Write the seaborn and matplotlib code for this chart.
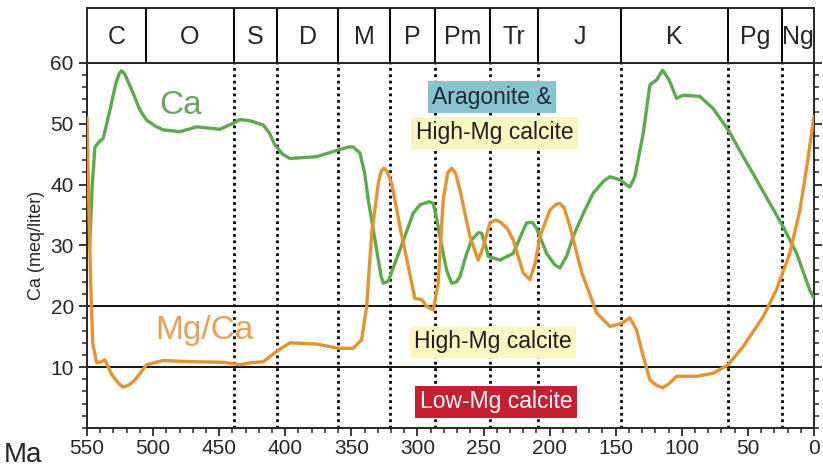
"""
Phanerozoic seawater Ca and Mg/Ca with carbonate mineralogy fields.
"""

import numpy as np
import pandas as pd
import matplotlib
matplotlib.use('Agg')
import matplotlib.pyplot as plt
import seaborn as sns

# --- data ---
ca_age = [548, 546, 544, 540, 537.7, 532.6, 528, 525.5, 523.8, 521.5, 518, 515, 510,
          504.9, 498, 492.3, 479.6, 467, 449.4, 439.3, 434.3, 426.7, 416.6, 412,
          407.8, 402, 396.4, 376.2, 359.9, 352, 348.6, 343.5, 340, 337.2,
          330.9, 327.5, 325.9, 322.1, 318, 313.2, 303.2, 298, 291, 288, 285.5, 283,
          278, 274.1, 270.5, 267.8, 263, 259, 254, 251.4, 248.5, 246.4, 237.6, 227.5,
          220, 217.4, 213, 209.8, 202.3, 196, 192.2, 187, 182.1, 174, 167, 159,
          154.4, 146.8, 142, 139.3, 135.5, 129.2, 124.1, 119.1, 114.5, 109.5, 104,
          98.9, 86.3, 76.2, 64.9, 53.5, 43.4, 33.3, 23.3, 13.1, 3.2, 0]
ca = [30, 40, 46.2, 47.2, 47.6, 52.3, 56.8, 58.3, 58.7, 58.2, 56.5, 55, 52.3,
      50.6, 49.6, 49, 48.7, 49.5, 49.1, 50.1, 50.7, 50.5, 49.8, 48.5,
      46.5, 45, 44.3, 44.6, 45.7, 46.2, 46.2, 45.2, 42, 37.5,
      29.3, 25, 23.8, 24.1, 26.5, 29.3, 35.3, 36.7, 37.2, 36.9, 34.5, 31.5,
      26, 23.8, 24, 24.9, 28.5, 30.9, 32.1, 32, 30, 28.2, 27.6, 28.7,
      32.5, 33.7, 33.8, 32.8, 28.7, 26.8, 26.3, 28.3, 31.5, 35.5, 38.6, 40.6,
      41.3, 40.8, 40, 39.6, 41.3, 48.4, 56.4, 57.2, 58.8, 57.2, 54.2,
      54.7, 54.5, 52.5, 49, 44.6, 40.8, 36.9, 33.1, 28.7, 22.7, 21.3]

mg_age = [550, 549, 547.2, 545.7, 542.7, 539, 536.4, 531.3, 526, 522.5, 518, 513.7,
          504.9, 492.3, 472.1, 446.9, 434.3, 426.7, 416.6, 406.5, 396.4, 376.2,
          359.9, 348.6, 342.2, 338.4, 334.6, 329.6, 327.5, 325.3, 323, 319.5, 313.2,
          306.9, 301.9, 296.8, 293, 288, 284.3, 280.5, 277, 274.1, 271, 267.8, 260.3,
          254, 250.2, 245.2, 241, 237.6, 232, 227.5, 220, 214.9, 211, 207.3, 199.8,
          195, 192.2, 189, 184.6, 175.6, 164.4, 154.4, 145.5, 139.3, 134.2,
          129.2, 124.1, 119, 114.5, 109, 103.9, 88.8, 76.2, 64.9, 53.5, 38.4, 28.4,
          18.3, 10.6, 4.6, 0]
mg_ca = [51, 40.2, 23.8, 14, 10.7, 10.9, 11.2, 8.8, 7.3, 6.7, 7.1, 7.9,
         10.4, 11.1, 10.9, 10.8, 10.4, 10.7, 10.9, 12.6, 14, 13.8,
         13.1, 13.1, 14.5, 20, 32, 40.2, 42.2, 42.7, 42.2, 40.2, 33.1,
         26.5, 21.3, 21.1, 20, 19.4, 23.8, 37.5, 42, 42.7, 41.8, 39.1, 31.5,
         27.6, 29.8, 33.7, 34.2, 33.9, 32.8, 30.9, 25.5, 24.4, 27, 31.5, 35.8,
         36.8, 36.9, 36.2, 33.1, 25.5, 18.9, 16.7, 17.2, 18.1, 16.1,
         11.8, 7.9, 7.0, 6.6, 7.4, 8.5, 8.5, 9, 10.4, 13.4, 18.3, 22.7,
         28.7, 35.8, 44.1, 51.2]

period_bounds = [550, 505, 439, 406, 360, 321, 287, 245, 209, 146, 65, 24, 0]
period_labels = ['C', 'O', 'S', 'D', 'M', 'P', 'Pm', 'Tr', 'J', 'K', 'Pg', 'Ng']
dotted_ages = period_bounds[2:-1]
field_lines = [10, 20]

GREEN = '#5aab4c'
ORANGE = '#e8922e'
FONT = ['Liberation Sans Narrow', 'Liberation Sans', 'DejaVu Sans']

sns.set_style('ticks')
plt.rcParams['font.family'] = FONT
plt.rcParams.update({
    'axes.linewidth': 1.4,
    'xtick.major.width': 1.3, 'ytick.major.width': 1.3,
    'xtick.minor.width': 1.1, 'ytick.minor.width': 1.1,
    'xtick.major.size': 6, 'ytick.major.size': 6,
    'xtick.minor.size': 3.5, 'ytick.minor.size': 3.5,
    'xtick.direction': 'out', 'ytick.direction': 'out',
    'lines.solid_joinstyle': 'round',
})

fig = plt.figure(figsize=(8.23, 4.70), dpi=100)
ax = fig.add_axes([0.1057, 0.0894, 0.8833, 0.7766])
band = fig.add_axes([0.1057, 0.866, 0.8833, 0.117], sharex=ax)

ca_df = pd.DataFrame({'age': ca_age, 'value': ca})
mg_df = pd.DataFrame({'age': mg_age, 'value': mg_ca})

# mineralogy field boundaries and period boundaries
for y in field_lines:
    ax.axhline(y, color='black', lw=1.3, zorder=1)
for a in dotted_ages:
    ax.axvline(a, color='black', lw=2, ls=(0, (1, 1.3)), zorder=1)

sns.lineplot(data=ca_df, x='age', y='value', sort=False, color=GREEN, lw=2.4, ax=ax, zorder=3)
sns.lineplot(data=mg_df, x='age', y='value', sort=False, color=ORANGE, lw=2.4, ax=ax, zorder=4)

ax.set_xlim(550, 0)
ax.set_ylim(0, 60)
ax.set_xticks(np.arange(550, -1, -50))
ax.set_xticks(np.arange(550, -1, -10), minor=True)
ax.set_yticks(np.arange(10, 61, 10))
ax.set_yticks(np.arange(0, 61, 2), minor=True)
ax.tick_params(axis='both', which='both', labelsize=15, right=True, top=False)
ax.tick_params(axis='x', which='major', pad=2)
ax.set_xlabel('')
ax.set_ylabel('Ca (meq/liter)', fontsize=13, labelpad=4)

fig.text(0.004, 0.032, 'Ma', fontsize=20, va='center', ha='left')

# curve names
ax.text(479, 53, 'Ca', color='#6ea260', fontsize=24, ha='center', va='center')
ax.text(461, 16, 'Mg/Ca', color='#e6a05a', fontsize=24, ha='center', va='center')

# mineralogy fields
box = dict(boxstyle='square,pad=0.2', ec='none')
ax.text(243.5, 54.4, 'Aragonite &', fontsize=16.5, ha='center', va='center', color='#1e2a30',
        bbox={**box, 'fc': '#86c4cf'}, zorder=5)
ax.text(241.4, 48.5, 'High-Mg calcite', fontsize=16.5, ha='center', va='center', color='#1e1e1e',
        bbox={**box, 'fc': '#fbf5c2'}, zorder=5)
ax.text(242.9, 14.2, 'High-Mg calcite', fontsize=16.5, ha='center', va='center', color='#1e1e1e',
        bbox={**box, 'fc': '#fbf5c2'}, zorder=5)
ax.text(240.6, 4.3, 'Low-Mg calcite', fontsize=16.5, ha='center', va='center', color='white',
        bbox={**box, 'fc': '#c81f30'}, zorder=5)

# geological period band
band.set_ylim(0, 1)
for b in period_bounds[1:-1]:
    band.axvline(b, color='black', lw=1.4)
for lo, hi, lab in zip(period_bounds[:-1], period_bounds[1:], period_labels):
    band.text((lo + hi) / 2, 0.48, lab, fontsize=18, ha='center', va='center')
band.tick_params(axis='both', which='both', bottom=False, left=False, labelbottom=False,
                 labelleft=False)
band.set_yticks([])

fig.savefig('out.png', dpi=100)
